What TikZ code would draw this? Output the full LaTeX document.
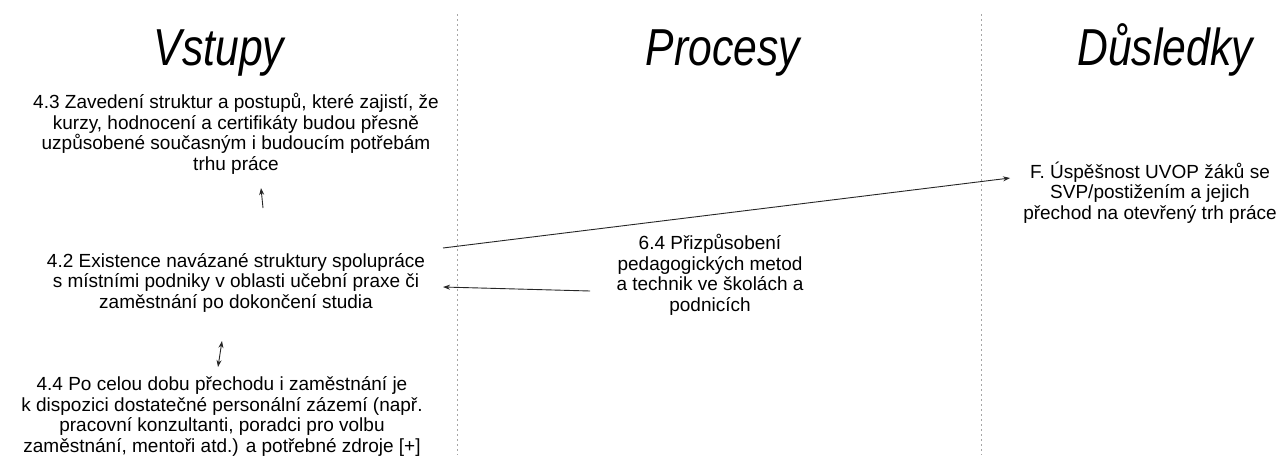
\documentclass[tikz,border=0pt]{standalone}
\usepackage{fontspec}
\setmainfont{Liberation Sans}
\usetikzlibrary{arrows.meta,calc}
\begin{document}
\begin{tikzpicture}[x=1pt,y=-1pt,
  body/.style={align=center,font=\fontsize{19}{20.5}\selectfont,inner sep=0pt,anchor=base},
  heading/.style={font=\fontsize{52}{56}\selectfont\itshape,inner sep=0pt,anchor=base},
  divider/.style={draw=gray!70,line width=1pt,dash pattern=on 2pt off 3pt},
  link/.style={draw=black!85,line width=0.9pt,-{Stealth[length=7pt,width=5pt]}},
  twolink/.style={draw=black!85,line width=0.9pt,{Stealth[length=7pt,width=5pt]}-{Stealth[length=7pt,width=5pt]}}]
\useasboundingbox (0,0) rectangle (1279,455);
\fill[white] (0,0) rectangle (1279,455);

% column dividers
\draw[divider] (457,14) -- (457,455);
\draw[divider] (981,14) -- (981,455);

% column headings (condensed italic)
\node[heading] (hin)  at (219,65) {\scalebox{0.82}[1]{Vstupy}};
\node[heading] (hpro) at (723,65) {\scalebox{0.82}[1]{Procesy}};
\node[heading] (hout) at (1165,65) {\scalebox{0.82}[1]{Důsledky}};

% inputs (anchor = baseline of the last line)
\node[body] (n43) at (236,170) {4.3 Zavedení struktur a postupů, které zajistí, že\\kurzy, hodnocení a certifikáty budou přesně\\uzpůsobené současným i budoucím potřebám\\trhu práce};
\node[body] (n42) at (236,308) {4.2 Existence navázané struktury spolupráce\\s místními podniky v oblasti učební praxe či\\zaměstnání po dokončení studia};
\node[body] (n44) at (222,452) {4.4 Po celou dobu přechodu i zaměstnání je\\k dispozici dostatečné personální zázemí (např.\\pracovní konzultanti, poradci pro volbu\\zaměstnání, mentoři atd.) a potřebné zdroje [+]};

% processes
\node[body] (n64) at (710,311) {6.4 Přizpůsobení\\pedagogických metod\\a technik ve školách a\\podnicích};

% outcomes
\node[body] (nF) at (1150,219) {F. Úspěšnost UVOP žáků se\\SVP/postižením a jejich\\přechod na otevřený trh práce};

% connectors
\coordinate (a1) at (263,208);
\coordinate (a2) at (261,188);
\draw[link] (a1) -- (a2);
\coordinate (b1) at (222,341);
\coordinate (b2) at (218,367);
\draw[twolink] (b1) -- (b2);
\coordinate (c1) at (590,291);
\coordinate (c2) at (443,287);
\draw[link] (c1) -- (c2);
\coordinate (d1) at (443,248);
\coordinate (d2) at (1010,178);
\draw[link] (d1) -- (d2);
\end{tikzpicture}
\end{document}
